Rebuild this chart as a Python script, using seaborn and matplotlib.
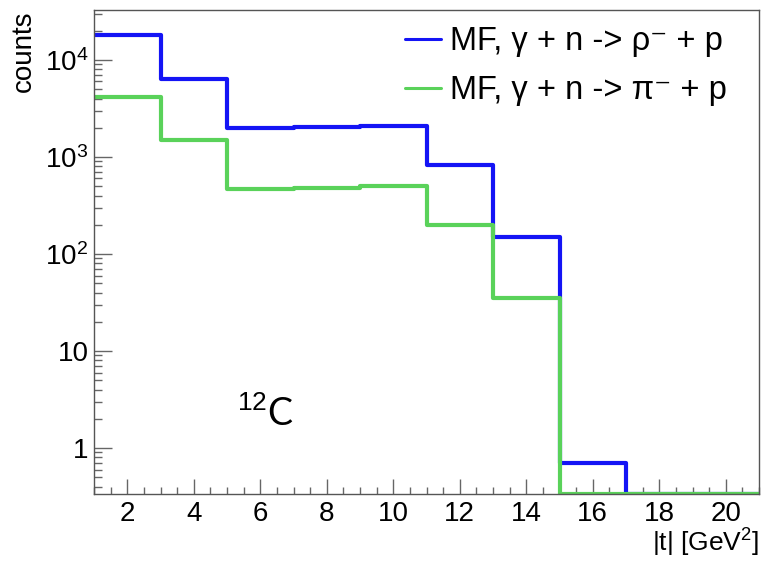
import seaborn as sns
import numpy as np
import pandas as pd
import matplotlib.pyplot as plt
from matplotlib.ticker import FixedLocator, FixedFormatter, LogLocator, MultipleLocator, NullFormatter

# bin edges in |t| [GeV^2]
t_edges = [1, 3, 5, 7, 9, 11, 13, 15, 17, 19, 21]
# counts per bin
rho_counts = [18000, 6400, 1990, 2040, 2080, 830, 148, 0.70, 0, 0]
pi_counts = [4100, 1480, 467, 478, 497, 200, 35, 0, 0, 0]

rho_label = "MF, γ + n -> ρ⁻ + p"
pi_label = "MF, γ + n -> π⁻ + p"

y_ticks = [1, 10, 100, 1000, 10000]
y_ticklabels = ["1", "10", r"$10^{2}$", r"$10^{3}$", r"$10^{4}$"]

sns.set_style("ticks")
plt.rcParams["font.family"] = ["Liberation Sans", "DejaVu Sans"]
plt.rcParams["mathtext.fontset"] = "custom"
plt.rcParams["mathtext.rm"] = "Liberation Sans"
plt.rcParams["mathtext.it"] = "Liberation Sans"
plt.rcParams["text.color"] = "black"
plt.rcParams["axes.labelcolor"] = "black"
plt.rcParams["xtick.labelcolor"] = "black"
plt.rcParams["ytick.labelcolor"] = "black"

ymin, ymax = 0.336, 3.27e4

fig = plt.figure(figsize=(7.68, 5.62), dpi=100)
ax = fig.add_axes([94 / 768, 1 - 494 / 562, (759 - 94) / 768, (494 - 10) / 562])
ax.set_yscale("log")

centers = [(a + b) / 2 for a, b in zip(t_edges[:-1], t_edges[1:])]
# empty bins are drawn on the bottom of the frame, like ROOT does
df = pd.DataFrame({
    "t": centers,
    "rho": [c if c > 0 else ymin for c in rho_counts],
    "pi": [c if c > 0 else ymin for c in pi_counts],
})

sns.histplot(data=df, x="t", weights="rho", bins=t_edges, element="step", fill=False,
             color="#1414f5", linewidth=3, ax=ax, label=rho_label)
sns.histplot(data=df, x="t", weights="pi", bins=t_edges, element="step", fill=False,
             color="#5ad25a", linewidth=3, ax=ax, label=pi_label)

ax.set_xlim(1, 21)
ax.set_ylim(ymin, ymax)

ax.xaxis.set_major_locator(MultipleLocator(2))
ax.xaxis.set_minor_locator(MultipleLocator(0.5))
ax.yaxis.set_major_locator(FixedLocator(y_ticks))
ax.yaxis.set_major_formatter(FixedFormatter(y_ticklabels))
ax.yaxis.set_minor_locator(LogLocator(base=10, subs=np.arange(2, 10)))
ax.yaxis.set_minor_formatter(NullFormatter())

ax.tick_params(which="both", direction="in", top=False, right=False, color="#666666",
               labelsize=20, width=1)
ax.tick_params(axis="x", which="major", length=11, pad=5)
ax.tick_params(axis="x", which="minor", length=5)
ax.tick_params(axis="y", which="major", length=13, pad=4)
ax.tick_params(axis="y", which="minor", length=6)

for s in ax.spines.values():
    s.set_color("#555555")
    s.set_linewidth(1)

ax.set_xlabel("|t| [GeV$^{2}$]", loc="right", fontsize=19, labelpad=0)
ax.set_ylabel("counts", loc="top", fontsize=20, labelpad=6)

ax.text(0.215, 0.165, r"$^{12}$C", transform=ax.transAxes, fontsize=27,
        family="Lato", ha="left", va="center")

leg = ax.legend(loc="upper left", bbox_to_anchor=(0.468, 0.966), borderaxespad=0,
                frameon=False, fontsize=23.5, handlelength=1.1, handletextpad=0.28,
                labelspacing=0.55, borderpad=0)
for h in leg.legend_handles:
    h.set_linewidth(2.2)

fig.savefig("out.png", dpi=100)
